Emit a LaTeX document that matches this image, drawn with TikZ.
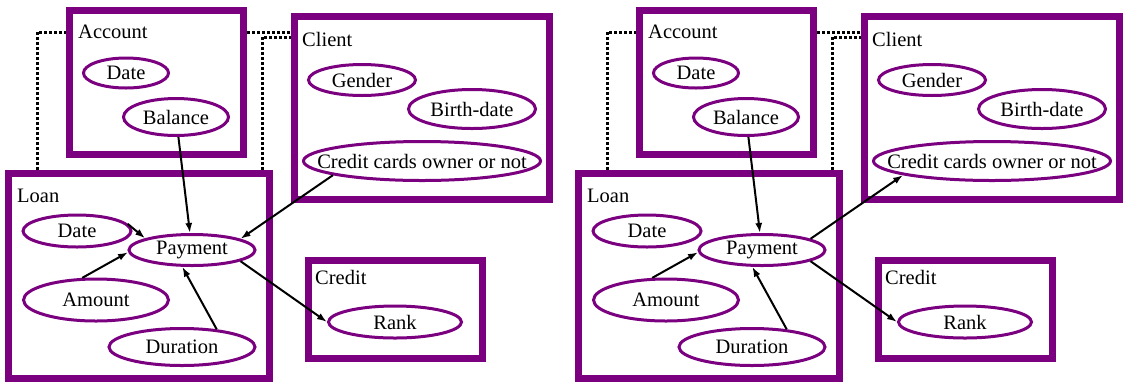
\documentclass[tikz,border=0pt]{standalone}
\usepackage{fontspec}
\setmainfont{Liberation Serif}
\usepackage{tikz}
\usetikzlibrary{shapes.geometric,arrows.meta}
\definecolor{entpurple}{RGB}{122,0,128}

\begin{document}
\begin{tikzpicture}[x=1pt, y=-1pt, font=\fontsize{20.5}{24}\selectfont,
    entity/.style={draw=entpurple, line width=7pt, rectangle, inner sep=0pt},
    attrib/.style={draw=entpurple, line width=3pt, ellipse, inner sep=0pt},
    title/.style={anchor=west, inner sep=0pt},
    link/.style={dotted, line width=3pt},
    flow/.style={line width=2pt, -{Latex[length=10pt,width=7pt]}}]
    \useasboundingbox (0,0) rectangle (1127,384);

    \foreach \s/\dx in {l/0, r/570} {
      \begin{scope}[xshift=\dx pt]
        % tables
        \node [entity, minimum width=174, minimum height=144] (acc-\s)  at (156.5, 82.5) {};
        \node [entity, minimum width=255, minimum height=183] (cli-\s)  at (422.0, 108.0) {};
        \node [entity, minimum width=261, minimum height=205] (loan-\s) at (139.0, 276.0) {};
        \node [entity, minimum width=174, minimum height=98]  (cred-\s) at (395.5, 309.5) {};
        \node [title] (acc-t-\s)  at (78, 32)  {Account};
        \node [title] (cli-t-\s)  at (302, 39) {Client};
        \node [title] (loan-t-\s) at (17, 196) {Loan};
        \node [title] (cred-t-\s) at (315, 277) {Credit};

        % attributes
        \node [attrib, minimum width=85,  minimum height=30, label=center:Date]      (adate-\s) at (126, 73)  {};
        \node [attrib, minimum width=105, minimum height=37, label=center:Balance]   (bal-\s)   at (176, 117) {};
        \node [attrib, minimum width=107, minimum height=31, label=center:Gender]    (gen-\s)   at (362, 80)  {};
        \node [attrib, minimum width=127, minimum height=39, label=center:Birth-date] (birth-\s) at (472, 109) {};
        \node [attrib, minimum width=237, minimum height=39, label=center:Credit cards owner or not] (ccard-\s) at (422, 161) {};
        \node [attrib, minimum width=108, minimum height=32, label=center:Date]      (ldate-\s) at (77, 231)  {};
        \node [attrib, minimum width=126, minimum height=31, label=center:Payment]   (pay-\s)   at (192, 250) {};
        \node [attrib, minimum width=145, minimum height=42, label=center:Amount]    (amt-\s)   at (96, 300)  {};
        \node [attrib, minimum width=146, minimum height=37, label=center:Duration]  (dur-\s)   at (182, 347) {};
        \node [attrib, minimum width=133, minimum height=32, label=center:Rank]      (rank-\s)  at (395, 322) {};

        % links between tables
        \draw [link] (37,0 |- loan-\s.north) |- (acc-\s.west |- 0,32);
        \draw [link] (acc-\s.east |- 0,32) -- (cli-\s.west |- 0,32);
        \draw [link] (262,0 |- loan-\s.north) |- (cli-\s.west |- 0,37);

        % dependencies
        \draw [flow] (bal-\s) -- (pay-\s);
        \draw [flow] (amt-\s.122) -- (pay-\s.182);
        \draw [flow] (dur-\s.27) -- (pay-\s.240);
        \draw [flow] (pay-\s.-13) -- (rank-\s.west);
      \end{scope}
    }

    \draw [flow] (ldate-l.8) -- (pay-l.166);
    \draw [flow] (ccard-l.189) -- (pay-l.13);
    \draw [flow] (pay-r.13) -- (ccard-r.189);
  \end{tikzpicture}
\end{document}
